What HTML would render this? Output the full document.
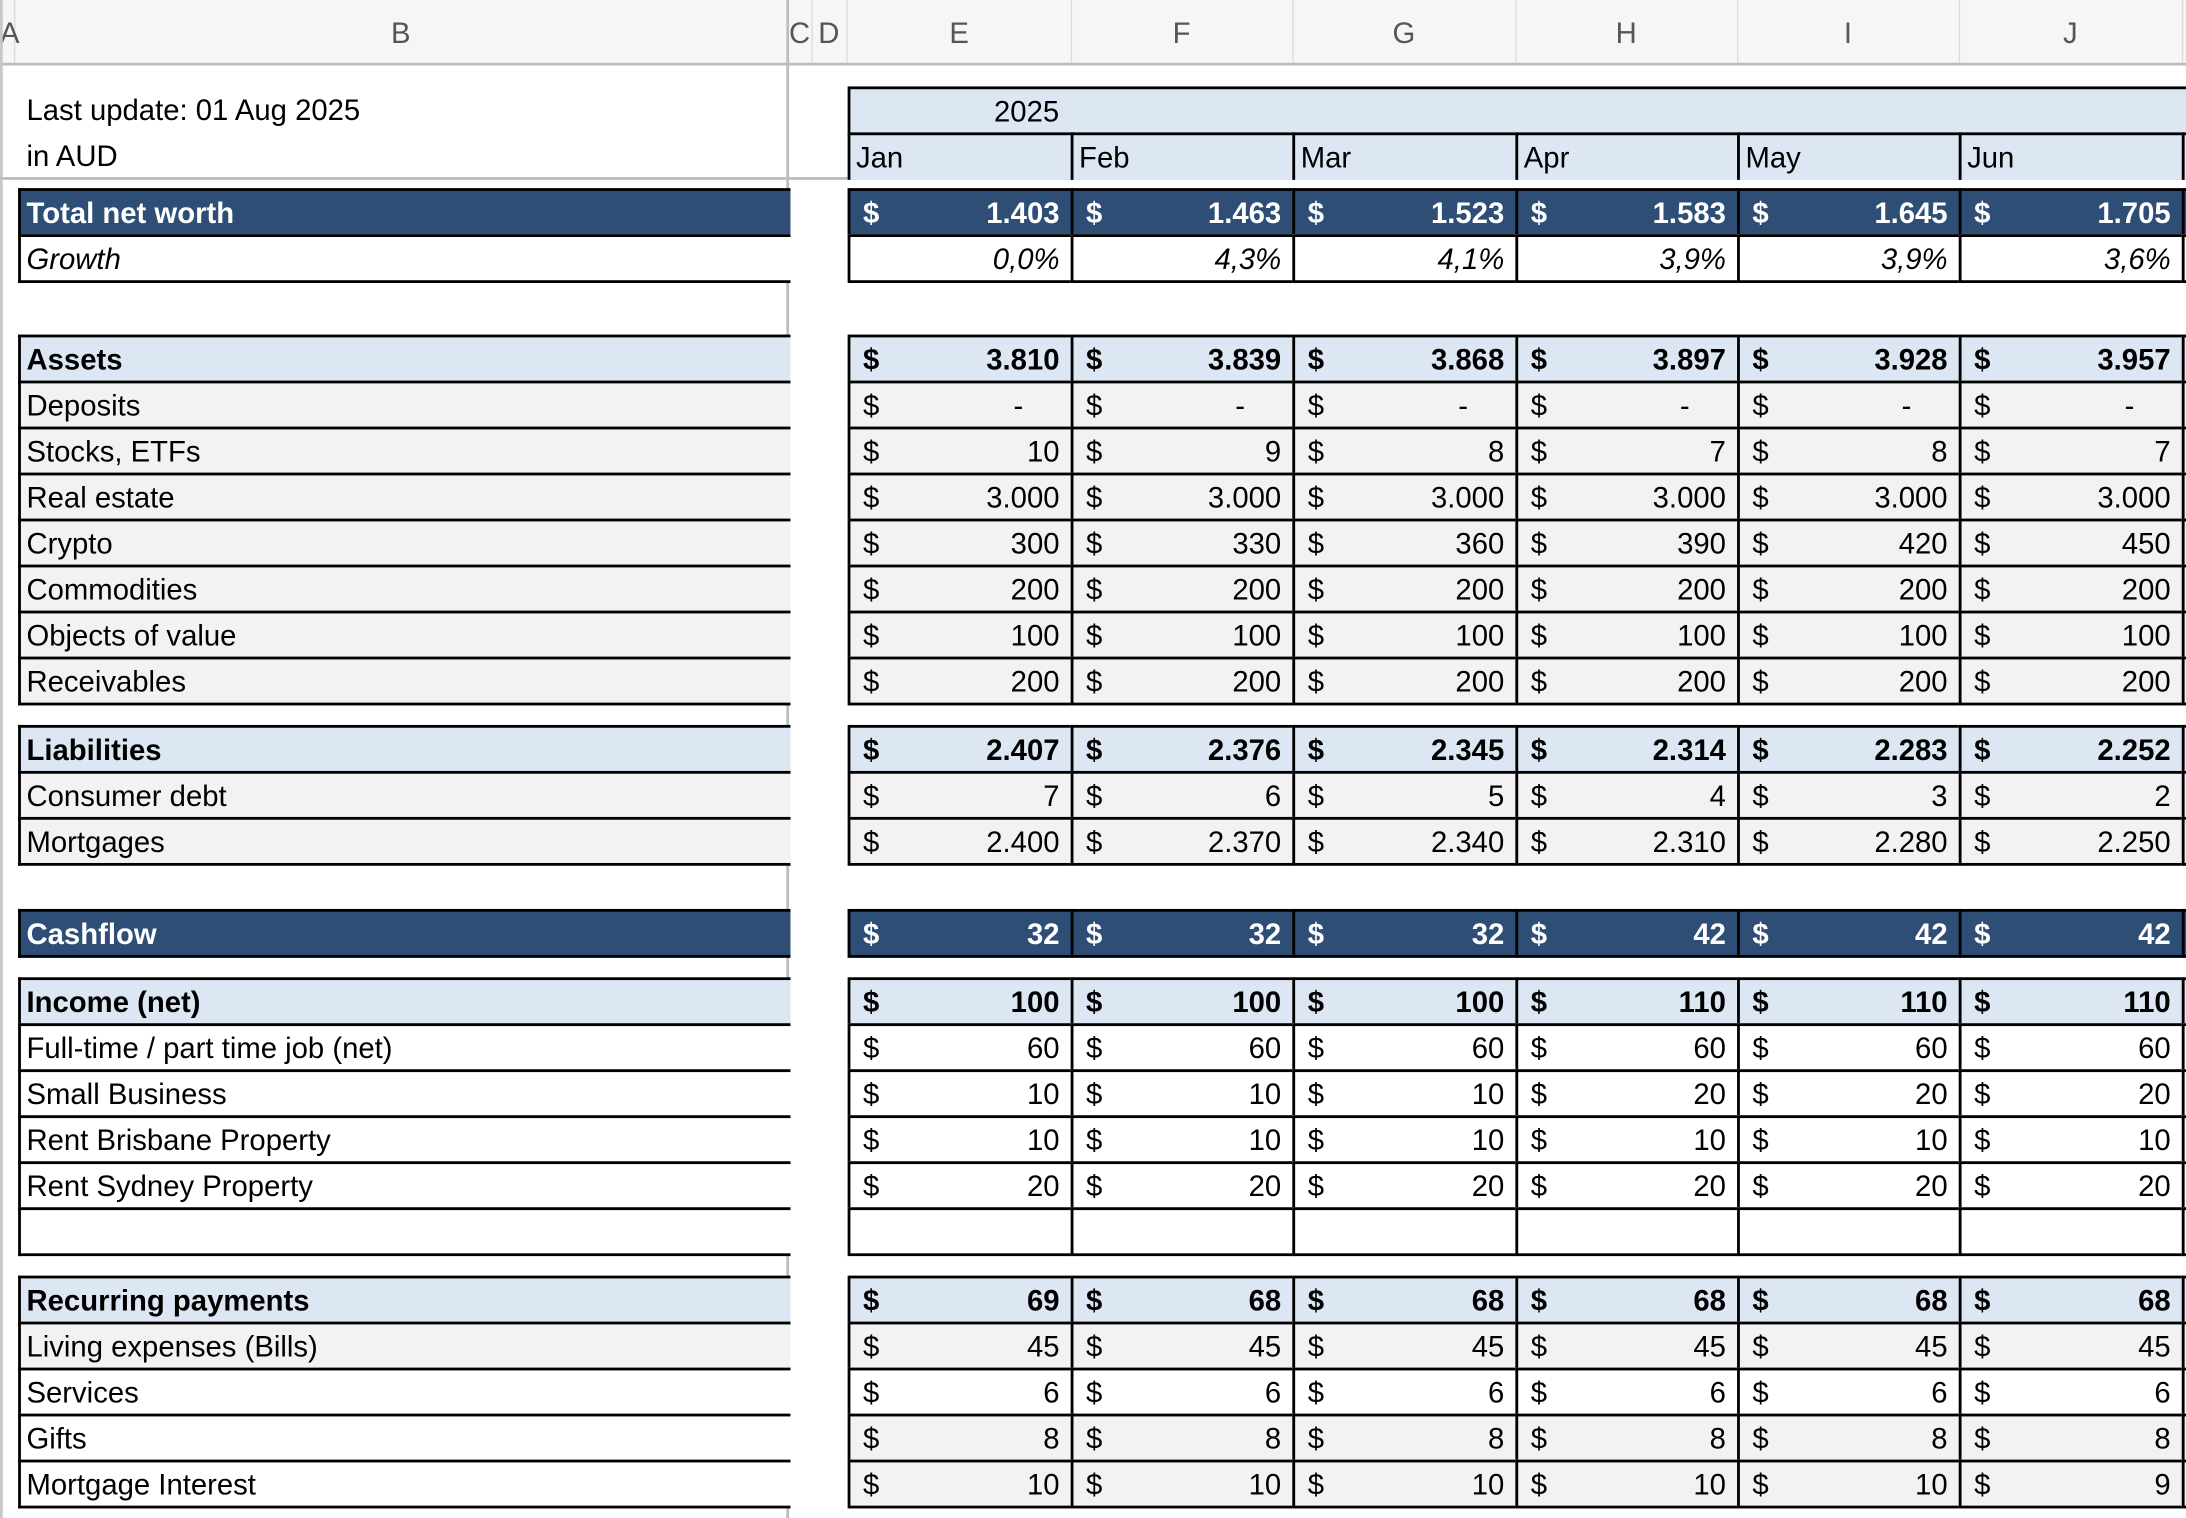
<!DOCTYPE html>
<html><head><meta charset="utf-8">
<style>
html,body{margin:0;padding:0;background:#fff;width:2186px;height:1518px;overflow:hidden}
#w{position:absolute;left:0;top:0;width:1568px;height:1089px;transform:scale(1.39413);transform-origin:0 0;font-family:"Liberation Sans",sans-serif;font-size:21px;color:#000}
.a{position:absolute;box-sizing:border-box}
.hd{background:#f6f6f6;top:0;height:47px;border-bottom:2px solid #bdbdbd;left:0;width:1568px}
.hl{position:absolute;top:0;height:47px;line-height:50px;color:#555;font-size:21px;text-align:center}
.hs{position:absolute;top:0;width:1px;height:45px;background:#dcdcdc}
.c{position:absolute;box-sizing:border-box;height:35px;border:2px solid #000;line-height:33px;white-space:nowrap;overflow:hidden}
.c .d{position:absolute;left:9px}
.c .n{position:absolute;right:8px}
.c .m{position:absolute;right:34px}
.lab{padding-left:4px}
.dk{background:#2e4e76;color:#fff;font-weight:bold}
.lt{background:#dde7f4;font-weight:bold}
.gr{background:#f2f2f2}
.wh{background:#fff}
</style></head><body><div id="w">
<div class="a hd"></div>
<div class="hs" style="left:10px"></div><div class="hs" style="left:582px"></div><div class="hs" style="left:607px"></div><div class="hs" style="left:768px"></div><div class="hs" style="left:927px"></div><div class="hs" style="left:1087px"></div><div class="hs" style="left:1246px"></div><div class="hs" style="left:1405px"></div><div class="hs" style="left:1565px"></div>
<div class="hl" style="left:0;width:14px">A</div>
<div class="hl" style="left:10px;width:555px">B</div>
<div class="hl" style="left:565px;width:17px">C</div>
<div class="hl" style="left:582px;width:25px">D</div>
<div class="hl" style="left:608px;width:160px">E</div>
<div class="hl" style="left:768px;width:159px">F</div>
<div class="hl" style="left:927px;width:160px">G</div>
<div class="hl" style="left:1087px;width:159px">H</div>
<div class="hl" style="left:1246px;width:159px">I</div>
<div class="hl" style="left:1405px;width:160px">J</div>
<div class="a" style="left:0;top:0;width:2px;height:1089px;background:#c8c8c8"></div>
<div class="a" style="left:564px;top:0;width:2px;height:1089px;background:#bdbdbd"></div>
<div class="a" style="left:0;top:127px;width:1568px;height:2px;background:#bdbdbd"></div>
<div class="a" style="left:19px;top:66px;line-height:28px">Last update: 01 Aug 2025</div>
<div class="a" style="left:19px;top:99px;line-height:28px">in AUD</div>
<div class="c lt" style="left:608px;top:62px;width:970px;font-weight:normal;line-height:33px"><span style="position:absolute;left:103px">2025</span></div>
<div class="c lt" style="left:608px;top:95px;width:162px;font-weight:normal;height:34px;border-bottom:none"><span class="lab">Jan</span></div>
<div class="c lt" style="left:768px;top:95px;width:161px;font-weight:normal;height:34px;border-bottom:none"><span class="lab">Feb</span></div>
<div class="c lt" style="left:927px;top:95px;width:162px;font-weight:normal;height:34px;border-bottom:none"><span class="lab">Mar</span></div>
<div class="c lt" style="left:1087px;top:95px;width:161px;font-weight:normal;height:34px;border-bottom:none"><span class="lab">Apr</span></div>
<div class="c lt" style="left:1246px;top:95px;width:161px;font-weight:normal;height:34px;border-bottom:none"><span class="lab">May</span></div>
<div class="c lt" style="left:1405px;top:95px;width:162px;font-weight:normal;height:34px;border-bottom:none"><span class="lab">Jun</span></div>
<div class="c lt" style="left:1565px;top:95px;width:20px;height:34px;border-bottom:none"></div>

<div class="c dk" style="left:13px;top:135px;width:554px;border-right:none"><span class="lab">Total net worth</span></div>
<div class="c dk" style="left:608px;top:135px;width:162px"><span class="d">$</span><span class="n">1.403</span></div>
<div class="c dk" style="left:768px;top:135px;width:161px"><span class="d">$</span><span class="n">1.463</span></div>
<div class="c dk" style="left:927px;top:135px;width:162px"><span class="d">$</span><span class="n">1.523</span></div>
<div class="c dk" style="left:1087px;top:135px;width:161px"><span class="d">$</span><span class="n">1.583</span></div>
<div class="c dk" style="left:1246px;top:135px;width:161px"><span class="d">$</span><span class="n">1.645</span></div>
<div class="c dk" style="left:1405px;top:135px;width:162px"><span class="d">$</span><span class="n">1.705</span></div>
<div class="c dk" style="left:1565px;top:135px;width:20px"></div>
<div class="c wh" style="left:13px;top:168px;width:554px;border-right:none;font-style:italic"><span class="lab">Growth</span></div>
<div class="c wh" style="left:608px;top:168px;width:162px;font-style:italic"><span class="n">0,0%</span></div>
<div class="c wh" style="left:768px;top:168px;width:161px;font-style:italic"><span class="n">4,3%</span></div>
<div class="c wh" style="left:927px;top:168px;width:162px;font-style:italic"><span class="n">4,1%</span></div>
<div class="c wh" style="left:1087px;top:168px;width:161px;font-style:italic"><span class="n">3,9%</span></div>
<div class="c wh" style="left:1246px;top:168px;width:161px;font-style:italic"><span class="n">3,9%</span></div>
<div class="c wh" style="left:1405px;top:168px;width:162px;font-style:italic"><span class="n">3,6%</span></div>
<div class="c wh" style="left:1565px;top:168px;width:20px"></div>

<div class="c lt" style="left:13px;top:240px;width:554px;border-right:none"><span class="lab">Assets</span></div>
<div class="c lt" style="left:608px;top:240px;width:162px"><span class="d">$</span><span class="n">3.810</span></div>
<div class="c lt" style="left:768px;top:240px;width:161px"><span class="d">$</span><span class="n">3.839</span></div>
<div class="c lt" style="left:927px;top:240px;width:162px"><span class="d">$</span><span class="n">3.868</span></div>
<div class="c lt" style="left:1087px;top:240px;width:161px"><span class="d">$</span><span class="n">3.897</span></div>
<div class="c lt" style="left:1246px;top:240px;width:161px"><span class="d">$</span><span class="n">3.928</span></div>
<div class="c lt" style="left:1405px;top:240px;width:162px"><span class="d">$</span><span class="n">3.957</span></div>
<div class="c lt" style="left:1565px;top:240px;width:20px"></div>

<div class="c gr" style="left:13px;top:273px;width:554px;border-right:none"><span class="lab">Deposits</span></div>
<div class="c gr" style="left:608px;top:273px;width:162px"><span class="d">$</span><span class="m">-</span></div>
<div class="c gr" style="left:768px;top:273px;width:161px"><span class="d">$</span><span class="m">-</span></div>
<div class="c gr" style="left:927px;top:273px;width:162px"><span class="d">$</span><span class="m">-</span></div>
<div class="c gr" style="left:1087px;top:273px;width:161px"><span class="d">$</span><span class="m">-</span></div>
<div class="c gr" style="left:1246px;top:273px;width:161px"><span class="d">$</span><span class="m">-</span></div>
<div class="c gr" style="left:1405px;top:273px;width:162px"><span class="d">$</span><span class="m">-</span></div>
<div class="c gr" style="left:1565px;top:273px;width:20px"></div>

<div class="c gr" style="left:13px;top:306px;width:554px;border-right:none"><span class="lab">Stocks, ETFs</span></div>
<div class="c gr" style="left:608px;top:306px;width:162px"><span class="d">$</span><span class="n">10</span></div>
<div class="c gr" style="left:768px;top:306px;width:161px"><span class="d">$</span><span class="n">9</span></div>
<div class="c gr" style="left:927px;top:306px;width:162px"><span class="d">$</span><span class="n">8</span></div>
<div class="c gr" style="left:1087px;top:306px;width:161px"><span class="d">$</span><span class="n">7</span></div>
<div class="c gr" style="left:1246px;top:306px;width:161px"><span class="d">$</span><span class="n">8</span></div>
<div class="c gr" style="left:1405px;top:306px;width:162px"><span class="d">$</span><span class="n">7</span></div>
<div class="c gr" style="left:1565px;top:306px;width:20px"></div>

<div class="c gr" style="left:13px;top:339px;width:554px;border-right:none"><span class="lab">Real estate</span></div>
<div class="c gr" style="left:608px;top:339px;width:162px"><span class="d">$</span><span class="n">3.000</span></div>
<div class="c gr" style="left:768px;top:339px;width:161px"><span class="d">$</span><span class="n">3.000</span></div>
<div class="c gr" style="left:927px;top:339px;width:162px"><span class="d">$</span><span class="n">3.000</span></div>
<div class="c gr" style="left:1087px;top:339px;width:161px"><span class="d">$</span><span class="n">3.000</span></div>
<div class="c gr" style="left:1246px;top:339px;width:161px"><span class="d">$</span><span class="n">3.000</span></div>
<div class="c gr" style="left:1405px;top:339px;width:162px"><span class="d">$</span><span class="n">3.000</span></div>
<div class="c gr" style="left:1565px;top:339px;width:20px"></div>

<div class="c gr" style="left:13px;top:372px;width:554px;border-right:none"><span class="lab">Crypto</span></div>
<div class="c gr" style="left:608px;top:372px;width:162px"><span class="d">$</span><span class="n">300</span></div>
<div class="c gr" style="left:768px;top:372px;width:161px"><span class="d">$</span><span class="n">330</span></div>
<div class="c gr" style="left:927px;top:372px;width:162px"><span class="d">$</span><span class="n">360</span></div>
<div class="c gr" style="left:1087px;top:372px;width:161px"><span class="d">$</span><span class="n">390</span></div>
<div class="c gr" style="left:1246px;top:372px;width:161px"><span class="d">$</span><span class="n">420</span></div>
<div class="c gr" style="left:1405px;top:372px;width:162px"><span class="d">$</span><span class="n">450</span></div>
<div class="c gr" style="left:1565px;top:372px;width:20px"></div>

<div class="c gr" style="left:13px;top:405px;width:554px;border-right:none"><span class="lab">Commodities</span></div>
<div class="c gr" style="left:608px;top:405px;width:162px"><span class="d">$</span><span class="n">200</span></div>
<div class="c gr" style="left:768px;top:405px;width:161px"><span class="d">$</span><span class="n">200</span></div>
<div class="c gr" style="left:927px;top:405px;width:162px"><span class="d">$</span><span class="n">200</span></div>
<div class="c gr" style="left:1087px;top:405px;width:161px"><span class="d">$</span><span class="n">200</span></div>
<div class="c gr" style="left:1246px;top:405px;width:161px"><span class="d">$</span><span class="n">200</span></div>
<div class="c gr" style="left:1405px;top:405px;width:162px"><span class="d">$</span><span class="n">200</span></div>
<div class="c gr" style="left:1565px;top:405px;width:20px"></div>

<div class="c gr" style="left:13px;top:438px;width:554px;border-right:none"><span class="lab">Objects of value</span></div>
<div class="c gr" style="left:608px;top:438px;width:162px"><span class="d">$</span><span class="n">100</span></div>
<div class="c gr" style="left:768px;top:438px;width:161px"><span class="d">$</span><span class="n">100</span></div>
<div class="c gr" style="left:927px;top:438px;width:162px"><span class="d">$</span><span class="n">100</span></div>
<div class="c gr" style="left:1087px;top:438px;width:161px"><span class="d">$</span><span class="n">100</span></div>
<div class="c gr" style="left:1246px;top:438px;width:161px"><span class="d">$</span><span class="n">100</span></div>
<div class="c gr" style="left:1405px;top:438px;width:162px"><span class="d">$</span><span class="n">100</span></div>
<div class="c gr" style="left:1565px;top:438px;width:20px"></div>

<div class="c gr" style="left:13px;top:471px;width:554px;border-right:none"><span class="lab">Receivables</span></div>
<div class="c gr" style="left:608px;top:471px;width:162px"><span class="d">$</span><span class="n">200</span></div>
<div class="c gr" style="left:768px;top:471px;width:161px"><span class="d">$</span><span class="n">200</span></div>
<div class="c gr" style="left:927px;top:471px;width:162px"><span class="d">$</span><span class="n">200</span></div>
<div class="c gr" style="left:1087px;top:471px;width:161px"><span class="d">$</span><span class="n">200</span></div>
<div class="c gr" style="left:1246px;top:471px;width:161px"><span class="d">$</span><span class="n">200</span></div>
<div class="c gr" style="left:1405px;top:471px;width:162px"><span class="d">$</span><span class="n">200</span></div>
<div class="c gr" style="left:1565px;top:471px;width:20px"></div>

<div class="c lt" style="left:13px;top:520px;width:554px;border-right:none"><span class="lab">Liabilities</span></div>
<div class="c lt" style="left:608px;top:520px;width:162px"><span class="d">$</span><span class="n">2.407</span></div>
<div class="c lt" style="left:768px;top:520px;width:161px"><span class="d">$</span><span class="n">2.376</span></div>
<div class="c lt" style="left:927px;top:520px;width:162px"><span class="d">$</span><span class="n">2.345</span></div>
<div class="c lt" style="left:1087px;top:520px;width:161px"><span class="d">$</span><span class="n">2.314</span></div>
<div class="c lt" style="left:1246px;top:520px;width:161px"><span class="d">$</span><span class="n">2.283</span></div>
<div class="c lt" style="left:1405px;top:520px;width:162px"><span class="d">$</span><span class="n">2.252</span></div>
<div class="c lt" style="left:1565px;top:520px;width:20px"></div>

<div class="c gr" style="left:13px;top:553px;width:554px;border-right:none"><span class="lab">Consumer debt</span></div>
<div class="c gr" style="left:608px;top:553px;width:162px"><span class="d">$</span><span class="n">7</span></div>
<div class="c gr" style="left:768px;top:553px;width:161px"><span class="d">$</span><span class="n">6</span></div>
<div class="c gr" style="left:927px;top:553px;width:162px"><span class="d">$</span><span class="n">5</span></div>
<div class="c gr" style="left:1087px;top:553px;width:161px"><span class="d">$</span><span class="n">4</span></div>
<div class="c gr" style="left:1246px;top:553px;width:161px"><span class="d">$</span><span class="n">3</span></div>
<div class="c gr" style="left:1405px;top:553px;width:162px"><span class="d">$</span><span class="n">2</span></div>
<div class="c gr" style="left:1565px;top:553px;width:20px"></div>

<div class="c gr" style="left:13px;top:586px;width:554px;border-right:none"><span class="lab">Mortgages</span></div>
<div class="c gr" style="left:608px;top:586px;width:162px"><span class="d">$</span><span class="n">2.400</span></div>
<div class="c gr" style="left:768px;top:586px;width:161px"><span class="d">$</span><span class="n">2.370</span></div>
<div class="c gr" style="left:927px;top:586px;width:162px"><span class="d">$</span><span class="n">2.340</span></div>
<div class="c gr" style="left:1087px;top:586px;width:161px"><span class="d">$</span><span class="n">2.310</span></div>
<div class="c gr" style="left:1246px;top:586px;width:161px"><span class="d">$</span><span class="n">2.280</span></div>
<div class="c gr" style="left:1405px;top:586px;width:162px"><span class="d">$</span><span class="n">2.250</span></div>
<div class="c gr" style="left:1565px;top:586px;width:20px"></div>

<div class="c dk" style="left:13px;top:652px;width:554px;border-right:none"><span class="lab">Cashflow</span></div>
<div class="c dk" style="left:608px;top:652px;width:162px"><span class="d">$</span><span class="n">32</span></div>
<div class="c dk" style="left:768px;top:652px;width:161px"><span class="d">$</span><span class="n">32</span></div>
<div class="c dk" style="left:927px;top:652px;width:162px"><span class="d">$</span><span class="n">32</span></div>
<div class="c dk" style="left:1087px;top:652px;width:161px"><span class="d">$</span><span class="n">42</span></div>
<div class="c dk" style="left:1246px;top:652px;width:161px"><span class="d">$</span><span class="n">42</span></div>
<div class="c dk" style="left:1405px;top:652px;width:162px"><span class="d">$</span><span class="n">42</span></div>
<div class="c dk" style="left:1565px;top:652px;width:20px"></div>

<div class="c lt" style="left:13px;top:701px;width:554px;border-right:none"><span class="lab">Income (net)</span></div>
<div class="c lt" style="left:608px;top:701px;width:162px"><span class="d">$</span><span class="n">100</span></div>
<div class="c lt" style="left:768px;top:701px;width:161px"><span class="d">$</span><span class="n">100</span></div>
<div class="c lt" style="left:927px;top:701px;width:162px"><span class="d">$</span><span class="n">100</span></div>
<div class="c lt" style="left:1087px;top:701px;width:161px"><span class="d">$</span><span class="n">110</span></div>
<div class="c lt" style="left:1246px;top:701px;width:161px"><span class="d">$</span><span class="n">110</span></div>
<div class="c lt" style="left:1405px;top:701px;width:162px"><span class="d">$</span><span class="n">110</span></div>
<div class="c lt" style="left:1565px;top:701px;width:20px"></div>

<div class="c wh" style="left:13px;top:734px;width:554px;border-right:none"><span class="lab">Full-time / part time job (net)</span></div>
<div class="c wh" style="left:608px;top:734px;width:162px"><span class="d">$</span><span class="n">60</span></div>
<div class="c wh" style="left:768px;top:734px;width:161px"><span class="d">$</span><span class="n">60</span></div>
<div class="c wh" style="left:927px;top:734px;width:162px"><span class="d">$</span><span class="n">60</span></div>
<div class="c wh" style="left:1087px;top:734px;width:161px"><span class="d">$</span><span class="n">60</span></div>
<div class="c wh" style="left:1246px;top:734px;width:161px"><span class="d">$</span><span class="n">60</span></div>
<div class="c wh" style="left:1405px;top:734px;width:162px"><span class="d">$</span><span class="n">60</span></div>
<div class="c wh" style="left:1565px;top:734px;width:20px"></div>

<div class="c wh" style="left:13px;top:767px;width:554px;border-right:none"><span class="lab">Small Business</span></div>
<div class="c wh" style="left:608px;top:767px;width:162px"><span class="d">$</span><span class="n">10</span></div>
<div class="c wh" style="left:768px;top:767px;width:161px"><span class="d">$</span><span class="n">10</span></div>
<div class="c wh" style="left:927px;top:767px;width:162px"><span class="d">$</span><span class="n">10</span></div>
<div class="c wh" style="left:1087px;top:767px;width:161px"><span class="d">$</span><span class="n">20</span></div>
<div class="c wh" style="left:1246px;top:767px;width:161px"><span class="d">$</span><span class="n">20</span></div>
<div class="c wh" style="left:1405px;top:767px;width:162px"><span class="d">$</span><span class="n">20</span></div>
<div class="c wh" style="left:1565px;top:767px;width:20px"></div>

<div class="c wh" style="left:13px;top:800px;width:554px;border-right:none"><span class="lab">Rent Brisbane Property</span></div>
<div class="c wh" style="left:608px;top:800px;width:162px"><span class="d">$</span><span class="n">10</span></div>
<div class="c wh" style="left:768px;top:800px;width:161px"><span class="d">$</span><span class="n">10</span></div>
<div class="c wh" style="left:927px;top:800px;width:162px"><span class="d">$</span><span class="n">10</span></div>
<div class="c wh" style="left:1087px;top:800px;width:161px"><span class="d">$</span><span class="n">10</span></div>
<div class="c wh" style="left:1246px;top:800px;width:161px"><span class="d">$</span><span class="n">10</span></div>
<div class="c wh" style="left:1405px;top:800px;width:162px"><span class="d">$</span><span class="n">10</span></div>
<div class="c wh" style="left:1565px;top:800px;width:20px"></div>

<div class="c wh" style="left:13px;top:833px;width:554px;border-right:none"><span class="lab">Rent Sydney Property</span></div>
<div class="c wh" style="left:608px;top:833px;width:162px"><span class="d">$</span><span class="n">20</span></div>
<div class="c wh" style="left:768px;top:833px;width:161px"><span class="d">$</span><span class="n">20</span></div>
<div class="c wh" style="left:927px;top:833px;width:162px"><span class="d">$</span><span class="n">20</span></div>
<div class="c wh" style="left:1087px;top:833px;width:161px"><span class="d">$</span><span class="n">20</span></div>
<div class="c wh" style="left:1246px;top:833px;width:161px"><span class="d">$</span><span class="n">20</span></div>
<div class="c wh" style="left:1405px;top:833px;width:162px"><span class="d">$</span><span class="n">20</span></div>
<div class="c wh" style="left:1565px;top:833px;width:20px"></div>

<div class="c wh" style="left:13px;top:866px;width:554px;border-right:none"></div>
<div class="c wh" style="left:608px;top:866px;width:162px"></div>
<div class="c wh" style="left:768px;top:866px;width:161px"></div>
<div class="c wh" style="left:927px;top:866px;width:162px"></div>
<div class="c wh" style="left:1087px;top:866px;width:161px"></div>
<div class="c wh" style="left:1246px;top:866px;width:161px"></div>
<div class="c wh" style="left:1405px;top:866px;width:162px"></div>
<div class="c wh" style="left:1565px;top:866px;width:20px"></div>

<div class="c lt" style="left:13px;top:915px;width:554px;border-right:none"><span class="lab">Recurring payments</span></div>
<div class="c lt" style="left:608px;top:915px;width:162px"><span class="d">$</span><span class="n">69</span></div>
<div class="c lt" style="left:768px;top:915px;width:161px"><span class="d">$</span><span class="n">68</span></div>
<div class="c lt" style="left:927px;top:915px;width:162px"><span class="d">$</span><span class="n">68</span></div>
<div class="c lt" style="left:1087px;top:915px;width:161px"><span class="d">$</span><span class="n">68</span></div>
<div class="c lt" style="left:1246px;top:915px;width:161px"><span class="d">$</span><span class="n">68</span></div>
<div class="c lt" style="left:1405px;top:915px;width:162px"><span class="d">$</span><span class="n">68</span></div>
<div class="c lt" style="left:1565px;top:915px;width:20px"></div>

<div class="c gr" style="left:13px;top:948px;width:554px;border-right:none"><span class="lab">Living expenses (Bills)</span></div>
<div class="c gr" style="left:608px;top:948px;width:162px"><span class="d">$</span><span class="n">45</span></div>
<div class="c gr" style="left:768px;top:948px;width:161px"><span class="d">$</span><span class="n">45</span></div>
<div class="c gr" style="left:927px;top:948px;width:162px"><span class="d">$</span><span class="n">45</span></div>
<div class="c gr" style="left:1087px;top:948px;width:161px"><span class="d">$</span><span class="n">45</span></div>
<div class="c gr" style="left:1246px;top:948px;width:161px"><span class="d">$</span><span class="n">45</span></div>
<div class="c gr" style="left:1405px;top:948px;width:162px"><span class="d">$</span><span class="n">45</span></div>
<div class="c gr" style="left:1565px;top:948px;width:20px"></div>

<div class="c wh" style="left:13px;top:981px;width:554px;border-right:none"><span class="lab">Services</span></div>
<div class="c wh" style="left:608px;top:981px;width:162px"><span class="d">$</span><span class="n">6</span></div>
<div class="c wh" style="left:768px;top:981px;width:161px"><span class="d">$</span><span class="n">6</span></div>
<div class="c wh" style="left:927px;top:981px;width:162px"><span class="d">$</span><span class="n">6</span></div>
<div class="c wh" style="left:1087px;top:981px;width:161px"><span class="d">$</span><span class="n">6</span></div>
<div class="c wh" style="left:1246px;top:981px;width:161px"><span class="d">$</span><span class="n">6</span></div>
<div class="c wh" style="left:1405px;top:981px;width:162px"><span class="d">$</span><span class="n">6</span></div>
<div class="c wh" style="left:1565px;top:981px;width:20px"></div>

<div class="c wh" style="left:13px;top:1014px;width:554px;border-right:none"><span class="lab">Gifts</span></div>
<div class="c gr" style="left:608px;top:1014px;width:162px"><span class="d">$</span><span class="n">8</span></div>
<div class="c gr" style="left:768px;top:1014px;width:161px"><span class="d">$</span><span class="n">8</span></div>
<div class="c gr" style="left:927px;top:1014px;width:162px"><span class="d">$</span><span class="n">8</span></div>
<div class="c gr" style="left:1087px;top:1014px;width:161px"><span class="d">$</span><span class="n">8</span></div>
<div class="c gr" style="left:1246px;top:1014px;width:161px"><span class="d">$</span><span class="n">8</span></div>
<div class="c gr" style="left:1405px;top:1014px;width:162px"><span class="d">$</span><span class="n">8</span></div>
<div class="c gr" style="left:1565px;top:1014px;width:20px"></div>

<div class="c wh" style="left:13px;top:1047px;width:554px;border-right:none"><span class="lab">Mortgage Interest</span></div>
<div class="c gr" style="left:608px;top:1047px;width:162px"><span class="d">$</span><span class="n">10</span></div>
<div class="c gr" style="left:768px;top:1047px;width:161px"><span class="d">$</span><span class="n">10</span></div>
<div class="c gr" style="left:927px;top:1047px;width:162px"><span class="d">$</span><span class="n">10</span></div>
<div class="c gr" style="left:1087px;top:1047px;width:161px"><span class="d">$</span><span class="n">10</span></div>
<div class="c gr" style="left:1246px;top:1047px;width:161px"><span class="d">$</span><span class="n">10</span></div>
<div class="c gr" style="left:1405px;top:1047px;width:162px"><span class="d">$</span><span class="n">9</span></div>
<div class="c gr" style="left:1565px;top:1047px;width:20px"></div>
</div></body></html>
